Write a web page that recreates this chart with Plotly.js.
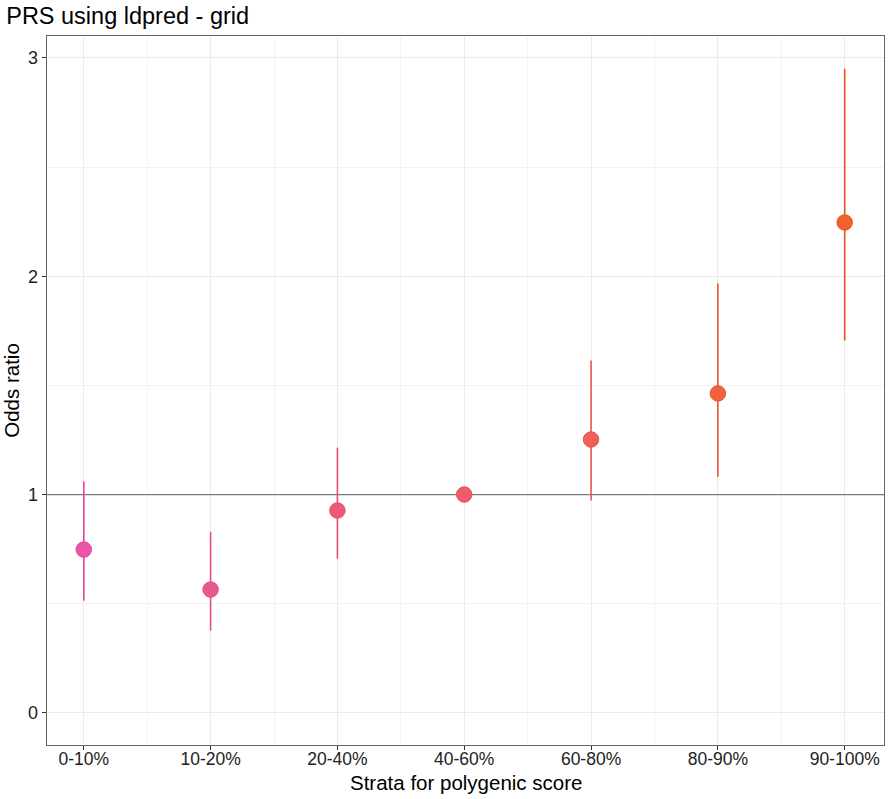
<!DOCTYPE html>
<html>
<head>
<meta charset="utf-8">
<script src="https://cdn.plot.ly/plotly-3.0.1.min.js"></script>
<style>
  html, body { margin: 0; padding: 0; background: #fff; }
  #chart { width: 888px; height: 799px; }
</style>
</head>
<body>
<div id="chart"></div>
<script>
// strata and odds ratios
let strata = ['0-10%', '10-20%', '20-40%', '40-60%', '60-80%', '80-90%', '90-100%'];
let oddsRatio = [0.748, 0.565, 0.927, 1.0, 1.252, 1.463, 2.246];
let ciLower = [0.514, 0.377, 0.707, 1.0, 0.973, 1.082, 1.705];
let ciUpper = [1.06, 0.83, 1.215, 1.0, 1.614, 1.967, 2.95];
let refLine = 1;

let fillColors = ['#EC56A8', '#EA5890', '#EC5A78', '#EE5C6A', '#EE6058', '#F0623E', '#F0622C'];
let edgeColors = ['#EE3AA0', '#E84A86', '#E84C6E', '#EA4E5E', '#EC5450', '#EE5030', '#EE4E1C'];

let xRange = [-0.29, 6.31];

// reference line at OR = 1, drawn first so the points sit on top of it
let traces = [{
  x: xRange,
  y: [refLine, refLine],
  type: 'scatter',
  mode: 'lines',
  line: { color: '#7a7a7a', width: 1.3 },
  hoverinfo: 'skip'
}];

for (let i = 0; i < strata.length; i++) {
  traces.push({
    x: [i],
    y: [oddsRatio[i]],
    type: 'scatter',
    mode: 'markers',
    name: strata[i],
    error_y: {
      type: 'data',
      symmetric: false,
      array: [ciUpper[i] - oddsRatio[i]],
      arrayminus: [oddsRatio[i] - ciLower[i]],
      color: edgeColors[i],
      thickness: 1.6,
      width: 0
    },
    marker: {
      size: 15.5,
      color: fillColors[i],
      line: { color: edgeColors[i], width: 1 }
    }
  });
}

// minor grid halfway between the major ticks
let xMinor = strata.slice(1).map((s, i) => i + 0.5);
let yMinor = [0.5, 1.5, 2.5];

let layout = {
  width: 888,
  height: 799,
  paper_bgcolor: '#ffffff',
  plot_bgcolor: '#ffffff',
  showlegend: false,
  margin: { l: 47, r: 4, t: 36, b: 54 },
  font: { family: 'Liberation Sans, Arial, sans-serif', color: '#000' },
  title: {
    text: 'PRS using ldpred - grid',
    font: { size: 23.5, color: '#000' },
    xref: 'container',
    x: 0.007,
    xanchor: 'left',
    yref: 'container',
    y: 0.98,
    yanchor: 'middle'
  },
  xaxis: {
    range: xRange,
    tickvals: strata.map((s, i) => i),
    ticktext: strata,
    tickfont: { size: 17.5, color: '#222' },
    ticks: 'outside',
    ticklen: 4,
    tickcolor: '#333',
    ticklabelstandoff: -6,
    showgrid: true,
    gridcolor: '#ebebeb',
    gridwidth: 1,
    minor: { tickmode: 'array', tickvals: xMinor, ticks: '', showgrid: true, gridcolor: '#f3f3f3', gridwidth: 1 },
    zeroline: false,
    showline: true,
    linecolor: '#666',
    linewidth: 1.3,
    mirror: true
  },
  yaxis: {
    range: [-0.147, 3.1],
    tickvals: [0, 1, 2, 3],
    tickfont: { size: 18, color: '#222' },
    ticks: 'outside',
    ticklen: 4,
    tickcolor: '#333',
    showgrid: true,
    gridcolor: '#ebebeb',
    gridwidth: 1,
    minor: { tickmode: 'array', tickvals: yMinor, ticks: '', showgrid: true, gridcolor: '#f3f3f3', gridwidth: 1 },
    zeroline: false,
    showline: true,
    linecolor: '#666',
    linewidth: 1.3,
    mirror: true,
    title: { text: 'Odds ratio', font: { size: 20.5, color: '#000' }, standoff: 6 }
  },
  // x-axis title as an annotation so it sits as close to the tick labels as in the original
  annotations: [{
    text: 'Strata for polygenic score',
    xref: 'paper', x: 0.5, xanchor: 'center',
    yref: 'paper', y: -0.0525, yanchor: 'middle',
    showarrow: false,
    font: { size: 20.5, color: '#000' }
  }]
};

Plotly.newPlot('chart', traces, layout, { displayModeBar: false, staticPlot: true });
</script>
</body>
</html>
